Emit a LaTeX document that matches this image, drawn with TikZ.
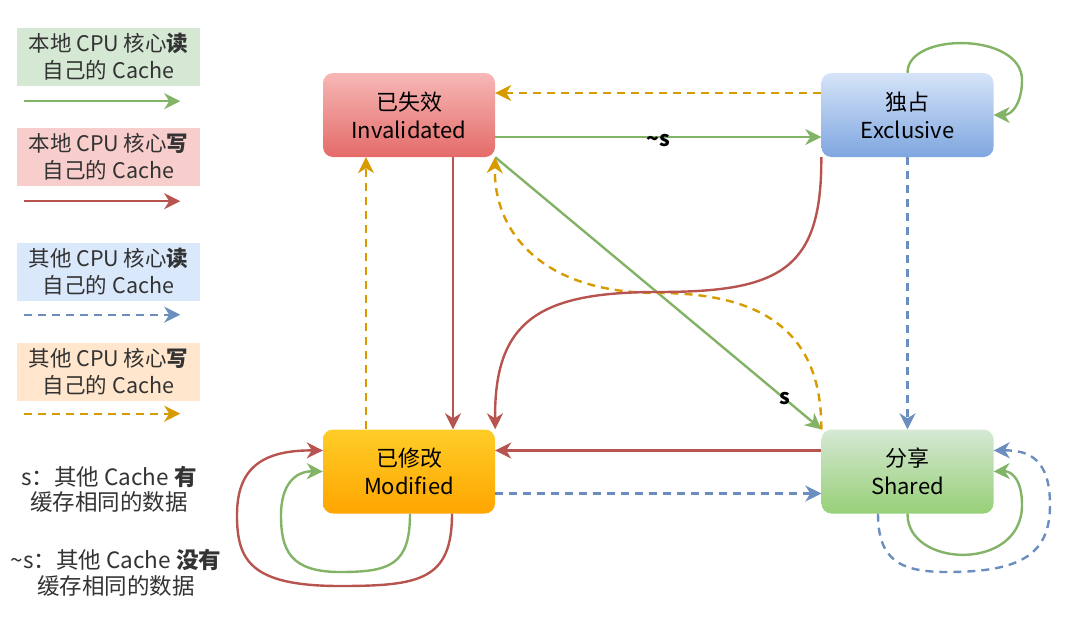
\documentclass[tikz,border=0pt]{standalone}
\usepackage{fontspec}
\setmainfont{Noto Sans CJK SC}
\usetikzlibrary{arrows.meta}

\definecolor{gline}{HTML}{82B366}
\definecolor{rline}{HTML}{B85450}
\definecolor{bline}{HTML}{6C8EBF}
\definecolor{oline}{HTML}{D79B00}
\definecolor{keyg}{HTML}{D5E8D4}
\definecolor{keyr}{HTML}{F8CECC}
\definecolor{keyb}{HTML}{DAE8FC}
\definecolor{keyo}{HTML}{FFE6CC}
\definecolor{invtop}{HTML}{F6B8B6}
\definecolor{invbot}{HTML}{E46B69}
\definecolor{extop}{HTML}{D6E4F8}
\definecolor{exbot}{HTML}{7EA6E0}
\definecolor{modtop}{HTML}{FFCD28}
\definecolor{modbot}{HTML}{FFA500}
\definecolor{shtop}{HTML}{D5E8D4}
\definecolor{shbot}{HTML}{97D077}
\definecolor{keytxt}{HTML}{333333}

\begin{document}
\begin{tikzpicture}
   [x=1pt,y=-1pt,
    state/.style={rounded corners=10pt,minimum width=172pt,minimum height=84pt,
       inner sep=0pt,align=center,font=\fontsize{22}{28}\selectfont},
    key/.style={minimum width=183pt,minimum height=58pt,inner sep=0pt,
       align=center,text=keytxt,font=\fontsize{21.5}{27}\selectfont},
    note/.style={align=center,text=keytxt,font=\fontsize{22.5}{25.5}\selectfont},
    lbl/.style={font=\bfseries\fontsize{21}{24}\selectfont,inner sep=0pt},
    arrowhd/.style={-{Stealth[length=16pt,width=16pt,inset=5pt]}},
    gs/.style={arrowhd,line width=2.4pt,draw=gline},
    rs/.style={arrowhd,line width=2.4pt,draw=rline},
    bd/.style={arrowhd,line width=2.4pt,draw=bline,dash pattern=on 8pt off 6pt},
    od/.style={arrowhd,line width=2.4pt,draw=oline,dash pattern=on 8pt off 6pt}]

   \useasboundingbox (0,0) rectangle (1070,619);

   % legend
   \node[key,fill=keyg] (kg) at (108.5,57) {本地 CPU 核心\textbf{读}\\自己的 Cache};
   \node[key,fill=keyr] (kr) at (108.5,157) {本地 CPU 核心\textbf{写}\\自己的 Cache};
   \node[key,fill=keyb] (kb) at (108.5,271.5) {其他 CPU 核心\textbf{读}\\自己的 Cache};
   \node[key,fill=keyo] (ko) at (108.5,371.5) {其他 CPU 核心\textbf{写}\\自己的 Cache};
   \draw[gs] ([shift={(7pt,-15pt)}]kg.south west) -- ([shift={(-20pt,-15pt)}]kg.south east);
   \draw[rs] ([shift={(7pt,-15pt)}]kr.south west) -- ([shift={(-20pt,-15pt)}]kr.south east);
   \draw[bd] ([shift={(7pt,-14pt)}]kb.south west) -- ([shift={(-20pt,-14pt)}]kb.south east);
   \draw[od] ([shift={(7pt,-13pt)}]ko.south west) -- ([shift={(-20pt,-13pt)}]ko.south east);
   \node[note] (ns) at (109,489.5) {s：其他 Cache \textbf{有}\\缓存相同的数据};
   \node[note] (nns) at (116,573) {\textasciitilde s：其他 Cache \textbf{没有}\\缓存相同的数据};

   % states
   \node[state,top color=invtop,bottom color=invbot] (inv) at (409,115) {已失效\\Invalidated};
   \node[state,top color=extop,bottom color=exbot] (ex) at (907.5,115) {独占\\Exclusive};
   \node[state,top color=modtop,bottom color=modbot] (mod) at (409,471.5) {已修改\\Modified};
   \node[state,top color=shtop,bottom color=shbot] (sh) at (907.5,471.5) {分享\\Shared};

   \draw[od] ([yshift=22pt]ex.west) -- ([yshift=22pt]inv.east);
   \draw[gs] ([yshift=-22pt]inv.east) -- node[lbl,yshift=-4pt] {\textasciitilde s} ([yshift=-22pt]ex.west);
   \draw[gs] (ex.north) .. controls (907,32) and (1022,32) .. (1022,80)
      .. controls (1022,103) and (1012,115) .. (ex.east);
   \draw[bd] (ex.south) -- (sh.north);
   \draw[gs] (inv.south east) -- node[lbl,pos=0.887] {s} (sh.north west);
   \draw[od] (sh.north west) .. controls (822,330) and (760,293) .. (658,293)
      .. controls (540,293) and (493,230) .. (inv.south east);
   \draw[rs] (ex.south west) .. controls (822,270) and (780,292) .. (658,292)
      .. controls (540,292) and (494,320) .. (mod.north east);
   \draw[rs] ([xshift=44pt]inv.south) -- ([xshift=44pt]mod.north);
   \draw[od] ([xshift=-43pt]mod.north) -- ([xshift=-43pt]inv.south);
   \draw[rs] ([yshift=21pt]sh.west) -- ([yshift=21pt]mod.east);
   \draw[bd] ([yshift=-22pt]mod.east) -- ([yshift=-22pt]sh.west);

   % self loops
   \draw[rs] ([xshift=43pt]mod.south) .. controls (452,580) and (420,586) .. (340,586)
      .. controls (250,586) and (237,560) .. (237,515)
      .. controls (237,470) and (260,450) .. ([yshift=21pt]mod.west);
   \draw[gs] ([xshift=1pt]mod.south) .. controls (410,565) and (390,572) .. (340,572)
      .. controls (290,572) and (281,550) .. (281,515)
      .. controls (281,485) and (295,471) .. (mod.west);
   \draw[gs] (sh.south) .. controls (907,568) and (1022,572) .. (1022,505)
      .. controls (1022,480) and (1012,471) .. (sh.east);
   \draw[bd] ([xshift=-29.5pt]sh.south) .. controls (878,560) and (900,572) .. (947,572)
      .. controls (1020,572) and (1050,555) .. (1050,505)
      .. controls (1050,460) and (1030,450) .. ([yshift=21pt]sh.east);
\end{tikzpicture}
\end{document}
